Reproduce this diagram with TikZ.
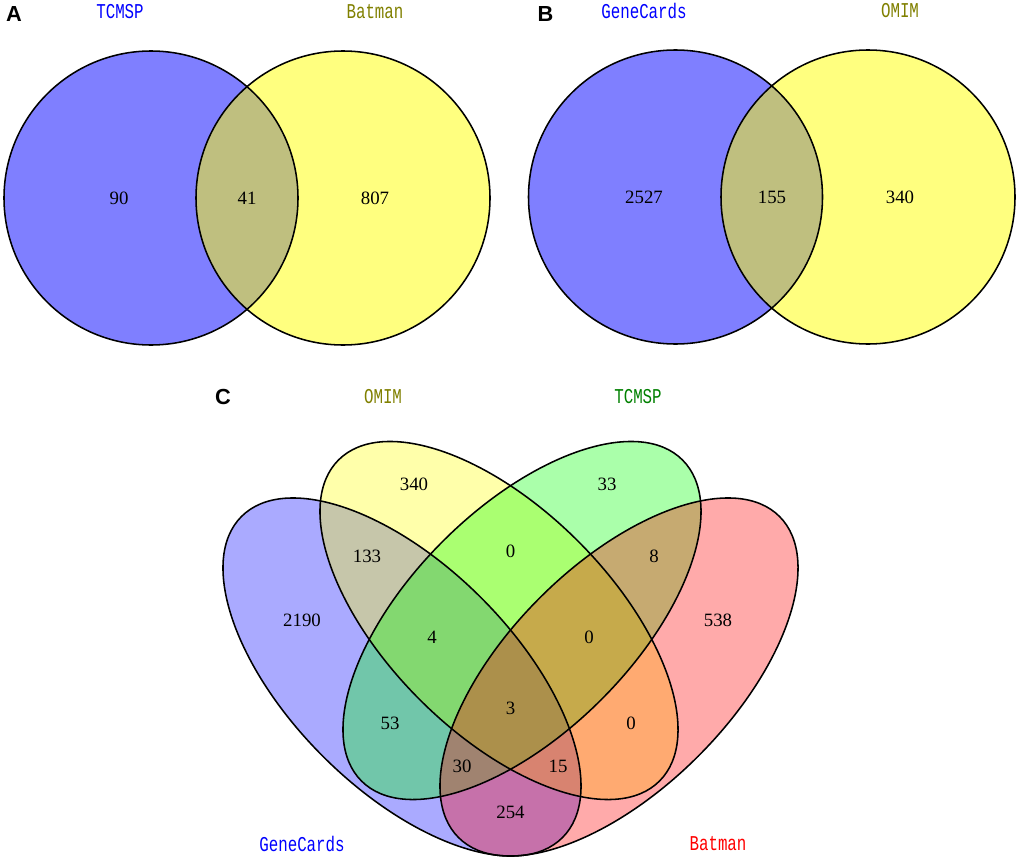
\documentclass[tikz,border=0pt]{standalone}
\usepackage{fontspec}
\setmainfont{Liberation Serif}
\setsansfont{Liberation Sans}
\newfontfamily\labelfont[FakeStretch=0.75]{Liberation Mono}
\definecolor{setblue}{RGB}{0,0,255}
\definecolor{setyellow}{RGB}{255,255,0}
\definecolor{setgreen}{RGB}{0,255,0}
\definecolor{setred}{RGB}{255,0,0}
\definecolor{olivelbl}{RGB}{128,128,0}
\definecolor{greenlbl}{RGB}{0,128,0}

\begin{document}
\begin{tikzpicture}[x=0.025cm,y=-0.025cm]
\tikzstyle{every node}+=[inner sep=0pt]
\tikzstyle{count}=[font=\fontsize{13.4}{15}\selectfont]
\tikzstyle{setname}=[font=\labelfont\fontsize{15}{17}\selectfont]
\tikzstyle{panel}=[font=\sffamily\bfseries\fontsize{15.5}{18}\selectfont]
\tikzstyle{rim}=[black, line width=1.1pt]
\useasboundingbox (0,0) rectangle (1020,861);
% panel A
\fill [setblue, fill opacity=0.5] (151,198) circle (147);
\fill [setyellow, fill opacity=0.5] (343,198) circle (147);
\draw [rim] (151,198) circle (147);
\draw [rim] (343,198) circle (147);
\node [panel] (A) at (14,14) {A};
\node [setname, text=setblue] (tcmspA) at (120,12) {TCMSP};
\node [setname, text=olivelbl] (batmanA) at (375,12) {Batman};
\node [count] (a1) at (119,198) {90};
\node [count] (a2) at (247,198) {41};
\node [count] (a3) at (375,198) {807};
% panel B
\fill [setblue, fill opacity=0.5] (675.5,197) circle (147);
\fill [setyellow, fill opacity=0.5] (868,197) circle (147);
\draw [rim] (675.5,197) circle (147);
\draw [rim] (868,197) circle (147);
\node [panel] (B) at (545.5,14) {B};
\node [setname, text=setblue] (genecardsB) at (644,11) {GeneCards};
\node [setname, text=olivelbl] (omimB) at (900,11) {OMIM};
\node [count] (b1) at (644,197) {2527};
\node [count] (b2) at (772,197) {155};
\node [count] (b3) at (900,197) {340};
% panel C
\begin{scope}[fill opacity=0.333]
\fill [setblue, rotate around={-45:(402,677)}] (402,677) ellipse [x radius=227, y radius=112];
\fill [setyellow, rotate around={-45:(499,620.5)}] (499,620.5) ellipse [x radius=227, y radius=112];
\fill [setgreen, rotate around={45:(522,620.5)}] (522,620.5) ellipse [x radius=227, y radius=112];
\fill [setred, rotate around={45:(619,677)}] (619,677) ellipse [x radius=227, y radius=112];
\end{scope}
\draw [rim, rotate around={-45:(402,677)}] (402,677) ellipse [x radius=227, y radius=112];
\draw [rim, rotate around={-45:(499,620.5)}] (499,620.5) ellipse [x radius=227, y radius=112];
\draw [rim, rotate around={45:(522,620.5)}] (522,620.5) ellipse [x radius=227, y radius=112];
\draw [rim, rotate around={45:(619,677)}] (619,677) ellipse [x radius=227, y radius=112];
\node [panel] (C) at (223,397) {C};
\node [setname, text=olivelbl] (omimC) at (383,397) {OMIM};
\node [setname, text=greenlbl] (tcmspC) at (638,397) {TCMSP};
\node [setname, text=setblue] (genecardsC) at (302,844) {GeneCards};
\node [setname, text=setred] (batmanC) at (718,844) {Batman};
\node [count] (c1) at (414,484) {340};
\node [count] (c2) at (607,484) {33};
\node [count] (c3) at (367,556) {133};
\node [count] (c4) at (510.5,551) {0};
\node [count] (c5) at (654,556) {8};
\node [count] (c6) at (302,620) {2190};
\node [count] (c7) at (718,620) {538};
\node [count] (c8) at (432,637) {4};
\node [count] (c9) at (589,637) {0};
\node [count] (c10) at (510.5,708) {3};
\node [count] (c11) at (390,723) {53};
\node [count] (c12) at (631,723) {0};
\node [count] (c13) at (462,766) {30};
\node [count] (c14) at (558,766) {15};
\node [count] (c15) at (510.5,812) {254};
\end{tikzpicture}
\end{document}
